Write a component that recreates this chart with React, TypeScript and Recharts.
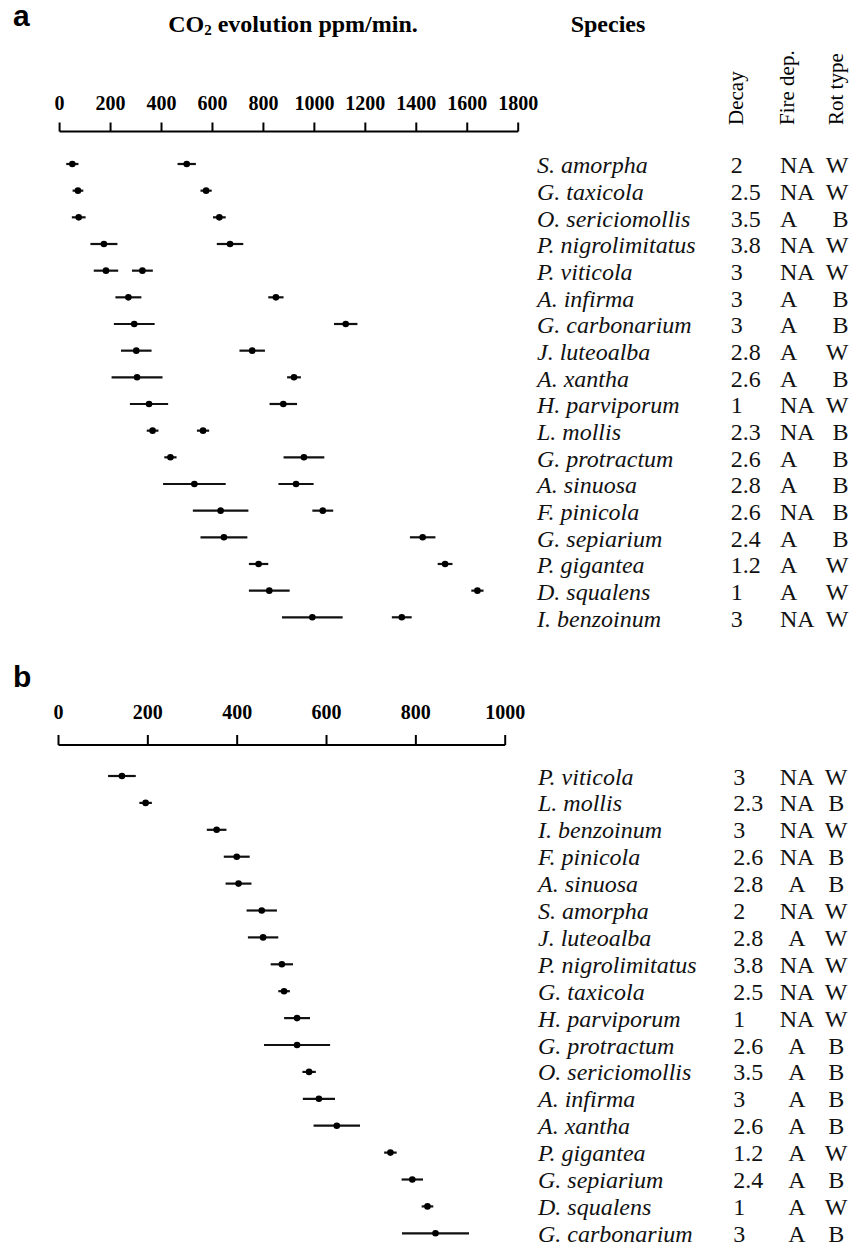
import { ErrorBar, Scatter, ScatterChart, XAxis, YAxis } from "recharts";

// panel a: two measurements per species
const speciesA = ["S. amorpha", "G. taxicola", "O. sericiomollis", "P. nigrolimitatus", "P. viticola", "A. infirma", "G. carbonarium", "J. luteoalba", "A. xantha", "H. parviporum", "L. mollis", "G. protractum", "A. sinuosa", "F. pinicola", "G. sepiarium", "P. gigantea", "D. squalens", "I. benzoinum"];
const decayA = ["2", "2.5", "3.5", "3.8", "3", "3", "3", "2.8", "2.6", "1", "2.3", "2.6", "2.8", "2.6", "2.4", "1.2", "1", "3"];
const fireA = ["NA", "NA", "A", "NA", "NA", "A", "A", "A", "A", "NA", "NA", "A", "A", "NA", "A", "A", "A", "NA"];
const rotA = ["W", "W", "B", "W", "W", "B", "B", "W", "B", "W", "B", "B", "B", "B", "B", "W", "W", "W"];
const lowMeanA = [50, 72, 75, 174, 182, 270, 293, 301, 304, 351, 365, 435, 529, 632, 645, 781, 823, 992];
const lowErrA = [24, 21, 27, 53, 48, 51, 80, 60, 100, 75, 23, 24, 123, 109, 92, 38, 80, 119];
const highMeanA = [499, 575, 627, 669, 325, 849, 1123, 756, 920, 878, 563, 959, 928, 1033, 1425, 1513, 1640, 1343];
const highErrA = [36, 22, 25, 52, 41, 30, 46, 50, 27, 54, 24, 80, 69, 41, 50, 29, 24, 39];
const ticksA = [0, 200, 400, 600, 800, 1000, 1200, 1400, 1600, 1800];

// panel b
const speciesB = ["P. viticola", "L. mollis", "I. benzoinum", "F. pinicola", "A. sinuosa", "S. amorpha", "J. luteoalba", "P. nigrolimitatus", "G. taxicola", "H. parviporum", "G. protractum", "O. sericiomollis", "A. infirma", "A. xantha", "P. gigantea", "G. sepiarium", "D. squalens", "G. carbonarium"];
const decayB = ["3", "2.3", "3", "2.6", "2.8", "2", "2.8", "3.8", "2.5", "1", "2.6", "3.5", "3", "2.6", "1.2", "2.4", "1", "3"];
const fireB = ["NA", "NA", "NA", "NA", "A", "NA", "A", "NA", "NA", "NA", "A", "A", "A", "A", "A", "A", "A", "A"];
const rotB = ["W", "B", "W", "B", "B", "W", "W", "W", "W", "W", "B", "B", "B", "B", "W", "B", "W", "B"];
const meanB = [142, 195, 354, 399, 403, 455, 458, 500, 505, 534, 534, 561, 583, 623, 743, 792, 826, 844];
const errB = [31, 14, 22, 29, 29, 34, 34, 25, 13, 29, 74, 15, 36, 52, 14, 24, 13, 75];
const ticksB = [0, 200, 400, 600, 800, 1000];

const serif = '"Liberation Serif", "Times New Roman", serif';
const sans = '"Liberation Sans", Arial, sans-serif';
const ink = "#111";

const rowIdx = speciesA.map((_, i) => i);

const lowA = speciesA.map((_, i) => ({ x: lowMeanA[i], y: i, err: lowErrA[i] }));
const highA = speciesA.map((_, i) => ({ x: highMeanA[i], y: i, err: highErrA[i] }));
const dataB = speciesB.map((_, i) => ({ x: meanB[i], y: i, err: errB[i] }));

const Dot = (props: any) => <circle cx={props.cx} cy={props.cy} r={3.3} fill="#000" />;

type Cols = { name: number; decay: number; fire: number; fireAnchor: string; rot: number; rotAnchor: string; dy: number };

function makeRowTick(names: string[], decay: string[], fire: string[], rot: string[], c: Cols) {
  return (props: any) => {
    const { x, y, payload } = props;
    const i = Math.round(payload.value);
    if (i < 0 || i >= names.length) return <g />;
    const base = { y: y + c.dy, fontFamily: serif, fontSize: 24, fill: ink };
    return (
      <g>
        <text {...base} x={x + c.name} fontStyle="italic">{names[i]}</text>
        <text {...base} x={x + c.decay}>{decay[i]}</text>
        <text {...base} x={x + c.fire} textAnchor={c.fireAnchor as any}>{fire[i]}</text>
        <text {...base} x={x + c.rot} textAnchor={c.rotAnchor as any}>{rot[i]}</text>
      </g>
    );
  };
}

const tickFont = { fill: "#000", fontSize: 20, fontWeight: 700, fontFamily: serif };
const axisStroke = { stroke: "#000", strokeWidth: 2 };

export default function App() {
  return (
    <div style={{ position: "absolute", left: 0, top: 0, width: 861, height: 1247, background: "#fff" }}>
      <div style={{ position: "absolute", left: 0, top: 0 }}>
        <ScatterChart width={861} height={640} margin={{ top: 91.5, right: 0, bottom: 0, left: 59.6 }} accessibilityLayer={false}>
          <XAxis
            type="number"
            dataKey="x"
            orientation="top"
            height={40}
            domain={[0, 1800]}
            ticks={ticksA}
            interval={0}
            allowDataOverflow
            tickSize={9}
            tickMargin={13}
            axisLine={axisStroke}
            tickLine={axisStroke}
            tick={tickFont}
          />
          <YAxis
            type="number"
            dataKey="y"
            orientation="right"
            width={342.8}
            domain={[-1.2188, 17.851]}
            reversed
            allowDataOverflow
            ticks={rowIdx}
            interval={0}
            axisLine={false}
            tickLine={false}
            tickSize={0}
            tickMargin={0}
            tick={makeRowTick(speciesA, decayA, fireA, rotA, { name: 18.8, decay: 212.5, fire: 261.8, fireAnchor: "start", rot: 330.3, rotAnchor: "end", dy: 9.5 })}
          />
          <Scatter data={lowA} shape={Dot} isAnimationActive={false}>
            <ErrorBar dataKey="err" direction="x" width={0} stroke={ink} strokeWidth={2.2} isAnimationActive={false} />
          </Scatter>
          <Scatter data={highA} shape={Dot} isAnimationActive={false}>
            <ErrorBar dataKey="err" direction="x" width={0} stroke={ink} strokeWidth={2.2} isAnimationActive={false} />
          </Scatter>
        </ScatterChart>
      </div>

      <div style={{ position: "absolute", left: 0, top: 640 }}>
        <ScatterChart width={861} height={607} margin={{ top: 65, right: 0, bottom: 0, left: 58.5 }} accessibilityLayer={false}>
          <XAxis
            type="number"
            dataKey="x"
            orientation="top"
            height={40}
            domain={[0, 1000]}
            ticks={ticksB}
            interval={0}
            allowDataOverflow
            tickSize={10}
            tickMargin={16}
            axisLine={axisStroke}
            tickLine={axisStroke}
            tick={tickFont}
          />
          <YAxis
            type="number"
            dataKey="y"
            orientation="right"
            width={355.8}
            domain={[-1.1524, 17.509]}
            reversed
            allowDataOverflow
            ticks={rowIdx}
            interval={0}
            axisLine={false}
            tickLine={false}
            tickSize={0}
            tickMargin={0}
            tick={makeRowTick(speciesB, decayB, fireB, rotB, { name: 32.8, decay: 228, fire: 291.8, fireAnchor: "middle", rot: 331, rotAnchor: "middle", dy: 8.5 })}
          />
          <Scatter data={dataB} shape={Dot} isAnimationActive={false}>
            <ErrorBar dataKey="err" direction="x" width={0} stroke={ink} strokeWidth={2.2} isAnimationActive={false} />
          </Scatter>
        </ScatterChart>
      </div>

      <svg width={861} height={1247} style={{ position: "absolute", left: 0, top: 0, pointerEvents: "none" }}>
        <text x={13} y={26} fontFamily={sans} fontWeight={700} fontSize={30} fill="#000">a</text>
        <text x={13} y={686.5} fontFamily={sans} fontWeight={700} fontSize={30} fill="#000">b</text>
        <text x={293} y={32} textAnchor="middle" fontFamily={serif} fontWeight={700} fontSize={24} fill="#000">
          CO<tspan fontSize={15} dy={3}>2</tspan>
          <tspan dy={-3}> evolution ppm/min.</tspan>
        </text>
        <text x={608} y={32} textAnchor="middle" fontFamily={serif} fontWeight={700} fontSize={24} fill="#000">Species</text>
        <text transform="translate(742.7,125) rotate(-90)" fontFamily={serif} fontSize={21} fill="#000">Decay</text>
        <text transform="translate(794,125) rotate(-90)" fontFamily={serif} fontSize={21} fill="#000">Fire dep.</text>
        <text transform="translate(842.7,125) rotate(-90)" fontFamily={serif} fontSize={21} fill="#000">Rot type</text>
      </svg>
    </div>
  );
}
